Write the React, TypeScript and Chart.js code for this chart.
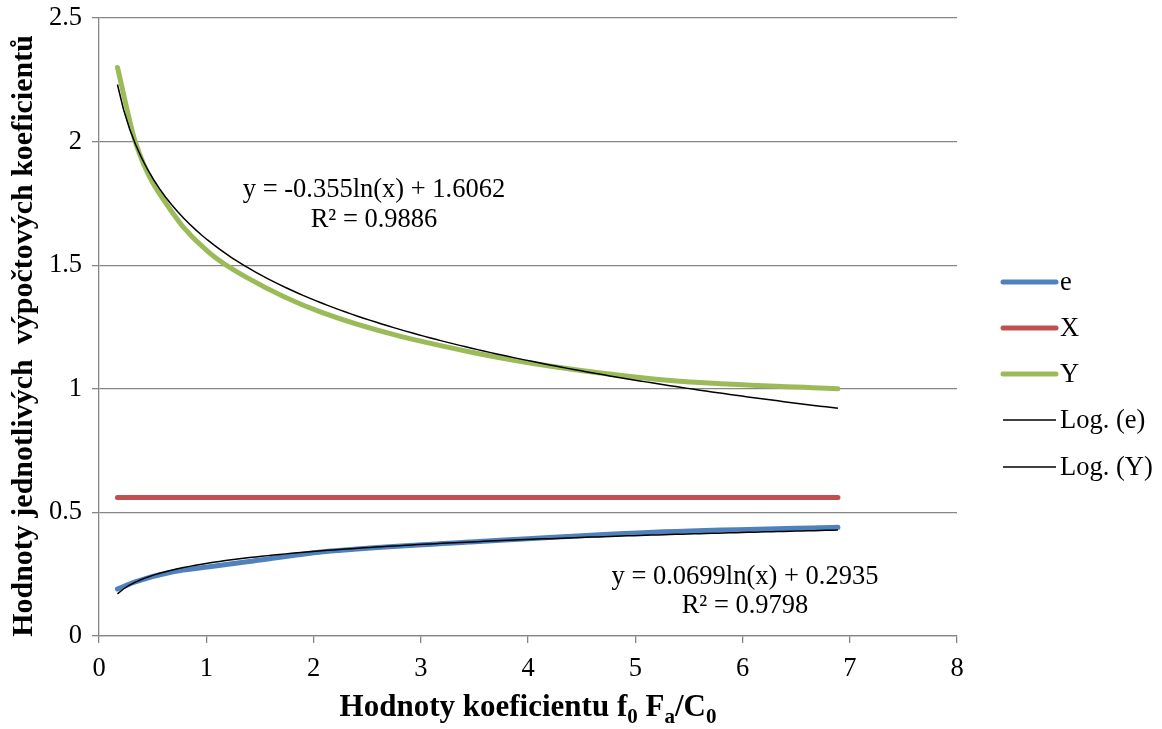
import React, { useEffect, useRef } from "react";
import { Chart, registerables } from "chart.js";

Chart.register(...registerables);

// f0 Fa / C0 values (x)
const faValues = [0.172, 0.345, 0.689, 1.03, 1.38, 2.07, 3.45, 5.17, 6.89];
// series values
const eValues = [0.19, 0.22, 0.26, 0.28, 0.3, 0.34, 0.38, 0.42, 0.44];
const xCoefValues = [0.56, 0.56, 0.56, 0.56, 0.56, 0.56, 0.56, 0.56, 0.56];
const yCoefValues = [2.3, 1.99, 1.71, 1.55, 1.45, 1.31, 1.15, 1.04, 1.0];

const seriesNames = ["e", "X", "Y", "Log. (e)", "Log. (Y)"];
const seriesColors = ["#4F81BD", "#C0504D", "#9BBB59", "#000000", "#000000"];

const xTicks = [0, 1, 2, 3, 4, 5, 6, 7, 8];
const yTicks = [0, 0.5, 1, 1.5, 2, 2.5];

const eqY = ["y = -0.355ln(x) + 1.6062", "R\u00B2 = 0.9886"];
const eqE = ["y = 0.0699ln(x) + 0.2935", "R\u00B2 = 0.9798"];

const yTitle = "Hodnoty jednotlivých  výpočtových koeficientů";

const SERIF = "'Liberation Serif', 'Times New Roman', serif";
const GRID = "#868686";
const FS = 26.5;

// Least-squares logarithmic fit y = a ln(x) + b (as the spreadsheet trendline)
function fitLog(xs: number[], ys: number[]) {
  const lx = xs.map((v) => Math.log(v));
  const n = xs.length;
  const mx = lx.reduce((s, v) => s + v, 0) / n;
  const my = ys.reduce((s, v) => s + v, 0) / n;
  let num = 0;
  let den = 0;
  for (let i = 0; i < n; i++) {
    num += (lx[i] - mx) * (ys[i] - my);
    den += (lx[i] - mx) * (lx[i] - mx);
  }
  const a = num / den;
  return { a, b: my - a * mx };
}

function trendPoints(xs: number[], ys: number[]) {
  const { a, b } = fitLog(xs, ys);
  const lo = Math.min(...xs);
  const hi = Math.max(...xs);
  const pts: { x: number; y: number }[] = [];
  const steps = 120;
  for (let i = 0; i <= steps; i++) {
    const x = lo + ((hi - lo) * i) / steps;
    pts.push({ x, y: a * Math.log(x) + b });
  }
  return pts;
}

const zip = (xs: number[], ys: number[]) => xs.map((x, i) => ({ x, y: ys[i] }));

const overlayPlugin = {
  id: "overlay",
  afterDraw(chart: any) {
    const ctx = chart.ctx as CanvasRenderingContext2D;
    const area = chart.chartArea;
    ctx.save();
    ctx.fillStyle = "#000";

    // trendline equations
    ctx.font = `${FS}px ${SERIF}`;
    ctx.textAlign = "center";
    ctx.textBaseline = "alphabetic";
    ctx.fillText(eqY[0], 374, 197);
    ctx.fillText(eqY[1], 374, 227);
    ctx.fillText(eqE[0], 745, 584);
    ctx.fillText(eqE[1], 745, 613);

    // legend
    const legendY = [282, 328, 374, 420, 467];
    ctx.textAlign = "left";
    ctx.textBaseline = "middle";
    seriesNames.forEach((name, i) => {
      const y = legendY[i];
      ctx.beginPath();
      ctx.strokeStyle = seriesColors[i];
      ctx.lineWidth = i < 3 ? 5 : 1.5;
      ctx.lineCap = i < 3 ? "round" : "butt";
      ctx.moveTo(1003, y);
      ctx.lineTo(1056, y);
      ctx.stroke();
      ctx.fillStyle = "#000";
      ctx.font = `${FS}px ${SERIF}`;
      ctx.fillText(name, 1060, y + 1);
    });

    // x title with subscripts
    const parts = [
      { t: "Hodnoty koeficientu f", sub: false },
      { t: "0", sub: true },
      { t: " F", sub: false },
      { t: "a", sub: true },
      { t: "/C", sub: false },
      { t: "0", sub: true },
    ];
    const mainFont = `bold 31px ${SERIF}`;
    const subFont = `bold 21px ${SERIF}`;
    let total = 0;
    parts.forEach((p) => {
      ctx.font = p.sub ? subFont : mainFont;
      total += ctx.measureText(p.t).width;
    });
    let cx = (area.left + area.right) / 2 - total / 2;
    ctx.textAlign = "left";
    ctx.textBaseline = "alphabetic";
    parts.forEach((p) => {
      ctx.font = p.sub ? subFont : mainFont;
      ctx.fillText(p.t, cx, p.sub ? 723 : 716);
      cx += ctx.measureText(p.t).width;
    });

    // y title
    ctx.translate(24, 336);
    ctx.rotate(-Math.PI / 2);
    ctx.font = `bold 30px ${SERIF}`;
    ctx.textAlign = "center";
    ctx.textBaseline = "middle";
    ctx.fillText(yTitle, 0, 0);
    ctx.restore();
  },
};

export default function App() {
  const canvasRef = useRef<HTMLCanvasElement | null>(null);

  useEffect(() => {
    const canvas = canvasRef.current;
    if (!canvas) return;
    const thick = {
      showLine: true,
      pointRadius: 0,
      borderWidth: 5,
      borderCapStyle: "round" as const,
      borderJoinStyle: "round" as const,
      cubicInterpolationMode: "monotone" as const,
      fill: false,
    };
    const thin = {
      showLine: true,
      pointRadius: 0,
      borderWidth: 1.5,
      fill: false,
      tension: 0,
    };
    const chart = new Chart(canvas, {
      type: "scatter",
      data: {
        datasets: [
          { label: seriesNames[3], data: trendPoints(faValues, eValues), borderColor: seriesColors[3], order: 0, ...thin },
          { label: seriesNames[4], data: trendPoints(faValues, yCoefValues), borderColor: seriesColors[4], order: 0, ...thin },
          { label: seriesNames[0], data: zip(faValues, eValues), borderColor: seriesColors[0], order: 1, ...thick },
          { label: seriesNames[1], data: zip(faValues, xCoefValues), borderColor: seriesColors[1], order: 1, ...thick },
          { label: seriesNames[2], data: zip(faValues, yCoefValues), borderColor: seriesColors[2], order: 1, ...thick },
        ] as any,
      },
      options: {
        responsive: false,
        animation: false,
        devicePixelRatio: 1,
        layout: { padding: { left: 0, right: 205, top: 18, bottom: 0 } },
        plugins: {
          legend: { display: false },
          tooltip: { enabled: false },
          title: { display: false },
        },
        scales: {
          x: {
            type: "linear",
            min: 0,
            max: 8,
            afterBuildTicks: (scale: any) => {
              scale.ticks = xTicks.map((v) => ({ value: v }));
            },
            afterFit: (scale: any) => {
              scale.height = 93;
              scale.paddingLeft = 0;
              scale.paddingRight = 0;
            },
            ticks: {
              color: "#000",
              font: { family: SERIF, size: FS },
              padding: 10,
              maxRotation: 0,
              callback: (v: any) => String(v),
            },
            grid: {
              drawOnChartArea: false,
              drawTicks: true,
              tickLength: 7,
              color: GRID,
              lineWidth: 1.3,
            },
            border: { display: true, color: GRID, width: 1.3 },
          },
          y: {
            type: "linear",
            min: 0,
            max: 2.5,
            afterBuildTicks: (scale: any) => {
              scale.ticks = yTicks.map((v) => ({ value: v }));
            },
            afterFit: (scale: any) => {
              scale.width = 99;
              scale.paddingTop = 0;
              scale.paddingBottom = 0;
            },
            ticks: {
              color: "#000",
              font: { family: SERIF, size: FS },
              padding: 10,
              callback: (v: any) => String(v),
            },
            grid: {
              drawTicks: true,
              tickLength: 7,
              color: GRID,
              lineWidth: 1.3,
            },
            border: { display: true, color: GRID, width: 1.3 },
          },
        },
      },
      plugins: [overlayPlugin],
    });
    return () => chart.destroy();
  }, []);

  return (
    <div style={{ position: "fixed", left: 0, top: 0, width: 1162, height: 729, background: "#fff" }}>
      <canvas ref={canvasRef} width={1162} height={729} style={{ display: "block" }} />
    </div>
  );
}
